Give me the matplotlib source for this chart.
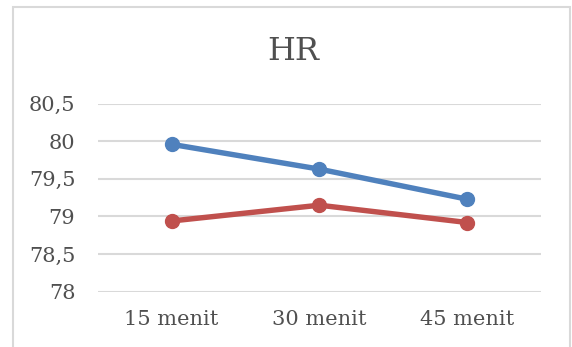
import numpy as np
import matplotlib
matplotlib.use("Agg")
import matplotlib.pyplot as plt
from matplotlib.patches import Rectangle

# heart rate at each measurement time
waktu = ["15 menit", "30 menit", "45 menit"]
hr_biru = [79.96, 79.63, 79.23]
hr_merah = [78.94, 79.15, 78.92]
yticks = [78, 78.5, 79, 79.5, 80, 80.5]
ylabels = ["78", "78,5", "79", "79,5", "80", "80,5"]

plt.rcParams["font.family"] = "DejaVu Serif"

fig = plt.figure(figsize=(5.72, 3.47), dpi=100)
ax = fig.add_axes([0.1706, 0.1594, 0.946 - 0.1706, 0.7012 - 0.1594])

# outer chart border
fig.patches.append(Rectangle((13 / 572, -0.05), (570 - 13) / 572, 1.05 - 7 / 347,
                             transform=fig.transFigure, fill=False,
                             edgecolor="#D9D9D9", linewidth=1.5))

x = np.arange(len(waktu))
ax.plot(x, hr_biru, color="#4F81BD", linewidth=3.9, marker="o", markersize=10,
        solid_capstyle="round", zorder=3)
ax.plot(x, hr_merah, color="#C0504D", linewidth=3.9, marker="o", markersize=10,
        solid_capstyle="round", zorder=3)

ax.set_xlim(-0.5, 2.5)
ax.set_ylim(78, 80.5)
ax.set_yticks(yticks)
ax.set_yticklabels(ylabels)
ax.set_xticks(x)
ax.set_xticklabels(waktu)
ax.tick_params(axis="both", length=0, labelsize=15, colors="#505050")
ax.tick_params(axis="y", pad=16)
ax.tick_params(axis="x", pad=13)
ax.grid(axis="y", color="#D9D9D9", linewidth=1.5)
ax.set_axisbelow(True)
for s in ax.spines.values():
    s.set_visible(False)

fig.text(293 / 572, 1 - 52 / 347, "HR", ha="center", va="center",
         fontsize=23, color="#505050")

fig.savefig("out.png", dpi=100)
